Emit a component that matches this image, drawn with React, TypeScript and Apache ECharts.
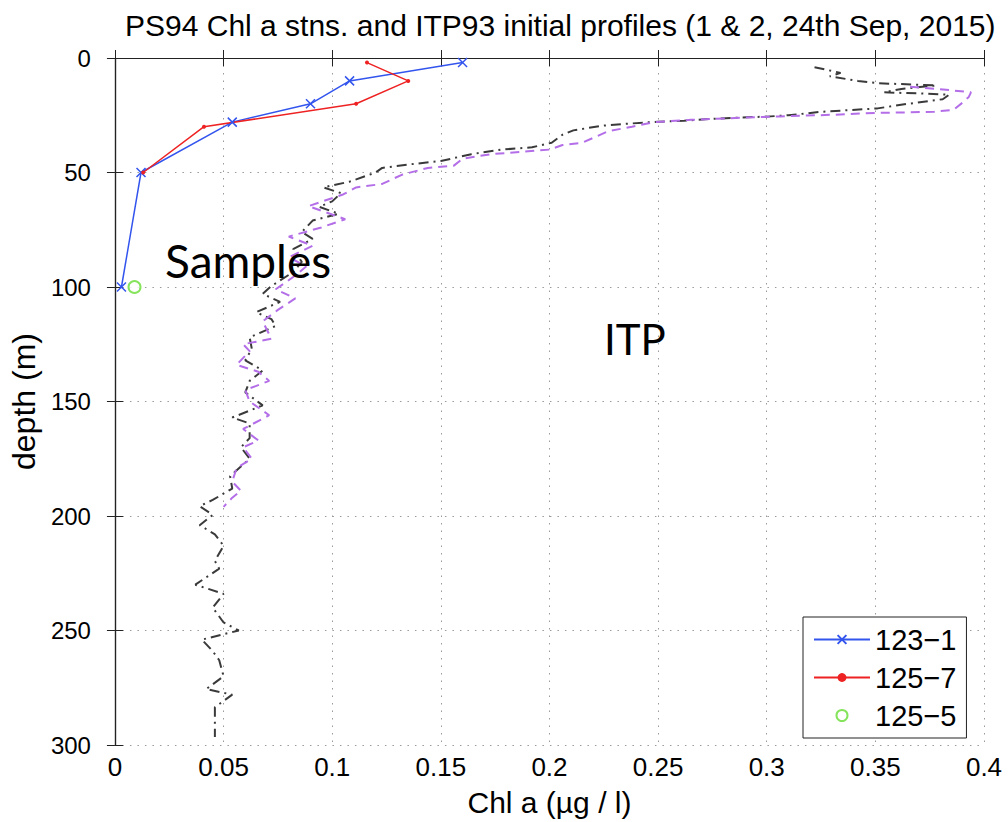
import React, { useEffect, useRef } from "react";
import * as echarts from "echarts";

const xTicks = [0, 0.05, 0.1, 0.15, 0.2, 0.25, 0.3, 0.35, 0.4];
const yTicks = [0, 50, 100, 150, 200, 250, 300];

const s1231Depth = [2, 10, 20, 28, 50, 100];
const s1231Chl = [0.16, 0.108, 0.09, 0.054, 0.012, 0.003];
const s1257Depth = [2, 10, 20, 30, 50];
const s1257Chl = [0.116, 0.135, 0.111, 0.041, 0.013];
const s1255Depth = [100];
const s1255Chl = [0.009];

const itp1Depth = [4, 6.5, 8, 10, 11, 12, 13.5, 15, 15.5, 16, 18, 20, 22, 23.5, 25, 25.6, 26, 26.5, 27.4, 27.8, 28.7, 29.6, 31.6, 33.5, 37, 39, 40, 42, 45, 46.5, 48, 50, 54, 56.5, 59, 62.6, 65, 68, 71, 76, 79, 83.5, 89, 93.5, 99.6, 103, 106.5, 111, 114, 117, 122, 127, 132, 136.5, 141, 146, 151.7, 157, 159.6, 166, 170, 175, 182.6, 188, 193, 195.7, 199.5, 204, 208, 213, 219.6, 223, 230, 234, 240, 246.5, 250, 254, 259, 263, 270, 275.6, 278, 283.5, 289, 296.5];
const itp1Chl = [0.322, 0.334, 0.329, 0.342, 0.351, 0.378, 0.362, 0.354, 0.371, 0.384, 0.381, 0.365, 0.351, 0.325, 0.31, 0.3, 0.288, 0.276, 0.262, 0.25, 0.236, 0.224, 0.211, 0.206, 0.201, 0.192, 0.178, 0.164, 0.15, 0.135, 0.123, 0.12, 0.108, 0.096, 0.104, 0.1, 0.094, 0.103, 0.091, 0.086, 0.091, 0.082, 0.086, 0.082, 0.072, 0.068, 0.076, 0.065, 0.072, 0.074, 0.062, 0.063, 0.06, 0.068, 0.062, 0.06, 0.068, 0.054, 0.062, 0.062, 0.058, 0.062, 0.053, 0.054, 0.045, 0.039, 0.045, 0.039, 0.046, 0.05, 0.046, 0.048, 0.037, 0.05, 0.045, 0.05, 0.057, 0.04, 0.045, 0.048, 0.05, 0.042, 0.054, 0.046, 0.046, 0.046];

const itp2Depth = [12.6, 14, 15, 17, 19.6, 22.6, 23.5, 24, 24.8, 25.5, 26, 27, 28, 30, 32, 37, 38, 40, 41, 42, 44, 47, 48, 51, 55, 56.5, 59.6, 64.7, 70.4, 74, 78, 82, 87, 91, 95, 101, 105, 110, 115, 122.6, 125, 128, 134, 137, 141, 145, 150, 156, 162, 167, 170, 175, 179, 185, 189, 192, 196];
const itp2Chl = [0.366, 0.384, 0.394, 0.393, 0.39, 0.386, 0.377, 0.35, 0.33, 0.306, 0.29, 0.265, 0.248, 0.238, 0.227, 0.215, 0.206, 0.2, 0.187, 0.173, 0.16, 0.156, 0.144, 0.132, 0.123, 0.111, 0.105, 0.089, 0.106, 0.095, 0.08, 0.091, 0.08, 0.088, 0.083, 0.074, 0.083, 0.075, 0.068, 0.072, 0.059, 0.062, 0.056, 0.066, 0.071, 0.06, 0.062, 0.071, 0.059, 0.066, 0.059, 0.063, 0.056, 0.054, 0.058, 0.054, 0.05];

const pairs = (xs: number[], ys: number[]) => xs.map((x, i) => [x, ys[i]]);

const HELV = "'Liberation Sans', Arial, Helvetica, sans-serif";

export default function App() {
  const ref = useRef<HTMLDivElement>(null);
  useEffect(() => {
    document.body.style.margin = "0";
    const chart = echarts.init(ref.current!, null, { renderer: "svg" });
    const gridLine = { show: true, lineStyle: { color: "#9a9a9a", type: [1.5, 6] as any, width: 1 } };
    chart.setOption({
      animation: false,
      backgroundColor: "#fff",
      title: {
        text: "PS94 Chl a stns. and ITP93 initial profiles (1 & 2, 24th Sep, 2015)",
        left: 120,
        top: 5,
        textStyle: { fontFamily: HELV, fontSize: 30, fontWeight: "normal", color: "#000" },
      },
      grid: { left: 112, right: 24, top: 58, bottom: 75 },
      legend: {
        data: ["123-1", "125-7", "125-5"],
        orient: "vertical",
        left: 803,
        top: 617,
        padding: [8, 10, 8, 10],
        itemGap: 9,
        itemWidth: 56,
        itemHeight: 11,
        backgroundColor: "#fff",
        borderColor: "#222",
        borderWidth: 1,
        textStyle: { fontFamily: HELV, fontSize: 29, color: "#000" },
        formatter: (n: string) => n.replace("-", "\u2212"),
      },
      xAxis: [
        {
          type: "value",
          min: 0,
          max: 0.4,
          interval: 0.05,
          name: "Chl a (\u00b5g / l)",
          nameLocation: "middle",
          nameGap: 42,
          nameTextStyle: { fontFamily: HELV, fontSize: 30, color: "#000" },
          axisLine: { show: true, lineStyle: { color: "#222", width: 1.2 } },
          axisTick: { show: true, inside: true, length: 8, lineStyle: { color: "#222" } },
          axisLabel: {
            fontFamily: HELV,
            fontSize: 26,
            color: "#000",
            margin: 9,
            formatter: (v: number) => {
              const t = xTicks.find((k) => Math.abs(k - v) < 1e-9);
              return t === undefined ? "" : String(t);
            },
          },
          splitLine: gridLine,
        },
        {
          type: "value",
          position: "top",
          min: 0,
          max: 0.4,
          interval: 0.05,
          axisLine: { show: true, lineStyle: { color: "#222", width: 1.2 } },
          axisTick: { show: true, inside: true, length: 8, lineStyle: { color: "#222" } },
          axisLabel: { show: false },
          splitLine: { show: false },
        },
      ],
      yAxis: [
        {
          type: "value",
          inverse: true,
          min: 0,
          max: 300,
          interval: 50,
          name: "depth (m)",
          nameLocation: "middle",
          nameGap: 72,
          nameTextStyle: { fontFamily: HELV, fontSize: 32, color: "#000" },
          axisLine: { show: true, lineStyle: { color: "#222", width: 1.2 } },
          axisTick: { show: true, inside: true, length: 8, lineStyle: { color: "#222" } },
          axisLabel: {
            fontFamily: HELV,
            fontSize: 24,
            color: "#000",
            margin: 24,
            formatter: (v: number) => (yTicks.includes(v) ? String(v) : ""),
          },
          splitLine: gridLine,
        },
        {
          type: "value",
          inverse: true,
          position: "right",
          min: 0,
          max: 300,
          interval: 50,
          axisLine: { show: true, lineStyle: { color: "#222", width: 1.2 } },
          axisTick: { show: true, inside: true, length: 8, lineStyle: { color: "#222" } },
          axisLabel: { show: false },
          splitLine: { show: false },
        },
      ],
      graphic: [
        {
          type: "text",
          left: 165,
          top: 237,
          style: { text: "Samples", fontFamily: "Lato, 'Open Sans', sans-serif", fontSize: 46, fill: "#000" },
          z: 10,
        },
        {
          type: "text",
          left: 604,
          top: 318,
          style: { text: "ITP", fontFamily: "Lato, 'Open Sans', sans-serif", fontSize: 42, fill: "#000" },
          z: 10,
        },
      ],
      series: [
        {
          name: "ITP1",
          type: "line",
          data: pairs(itp1Chl, itp1Depth),
          showSymbol: false,
          symbol: "none",
          lineStyle: { color: "#3a3a3a", width: 2, type: [10, 5, 2, 5] as any },
          z: 2,
        },
        {
          name: "ITP2",
          type: "line",
          data: pairs(itp2Chl, itp2Depth),
          showSymbol: false,
          symbol: "none",
          lineStyle: { color: "#b36ee8", width: 2, type: [9, 6] as any },
          z: 2,
        },
        {
          name: "123-1",
          type: "line",
          data: pairs(s1231Chl, s1231Depth),
          symbol: "path://M0,0L10,10M10,0L0,10",
          symbolSize: 9,
          lineStyle: { color: "#3355ee", width: 1.5 },
          itemStyle: { color: "#3355ee", borderColor: "#3355ee", borderWidth: 1.5 },
          z: 5,
        },
        {
          name: "125-7",
          type: "line",
          data: pairs(s1257Chl, s1257Depth),
          symbol: "circle",
          symbolSize: 4,
          lineStyle: { color: "#ee2222", width: 1.5 },
          itemStyle: { color: "#ee2222" },
          z: 5,
        },
        {
          name: "125-5",
          type: "scatter",
          data: pairs(s1255Chl, s1255Depth),
          symbol: "emptyCircle",
          symbolSize: 12,
          itemStyle: { color: "#66dd33", borderColor: "#66dd33", borderWidth: 1.5 },
          z: 5,
        },
      ],
    });
    return () => chart.dispose();
  }, []);
  return <div ref={ref} style={{ width: 1008, height: 822 }} />;
}
